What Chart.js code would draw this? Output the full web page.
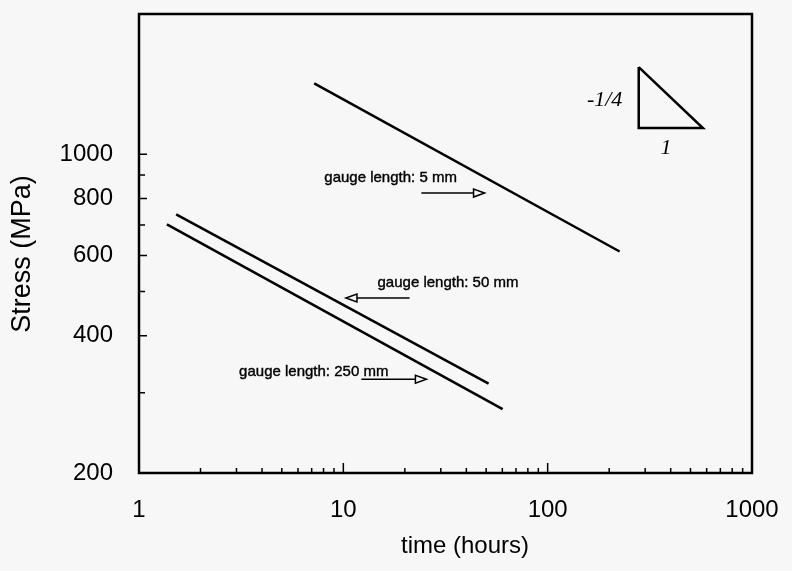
<!DOCTYPE html>
<html lang="en">
<head>
<meta charset="UTF-8">
<title>Stress vs time</title>
<script src="https://cdn.jsdelivr.net/npm/chart.js"></script>
<style>
  html, body { margin: 0; padding: 0; background: #f7f7f7; }
  #grafico { display: block; }
</style>
</head>
<body>
<canvas id="grafico" width="792" height="571"></canvas>
<script>
// data (time in hours, stress in MPa)
const line5mm   = [{x: 7.2,  y: 1430}, {x: 225,  y: 612}];
const line50mm  = [{x: 1.52, y: 738},  {x: 51.4, y: 314}];
const line250mm = [{x: 1.37, y: 702},  {x: 60.2, y: 276}];
const slopeTriangle = [{x: 279, y: 1553}, {x: 279, y: 1141}, {x: 575, y: 1141}, {x: 279, y: 1553}];

const xTickLabels = [1, 10, 100, 1000];
const yTickLabels = [200, 400, 600, 800, 1000];
const xMinorTicks = [2,3,4,5,6,7,8,9, 20,30,40,50,60,70,80,90, 200,300,400,500,600,700,800,900];
const xMajorTicks = [10, 100];
const yMinorTicks = [300, 500, 700, 900];
const yMajorTicks = [400, 600, 800, 1000];

// notes: text / arrows placed in data coordinates
const notes = [
    {text: 'gauge length: 5 mm',   x: 8.07, y: 887},
    {text: 'gauge length: 50 mm',  x: 14.7, y: 522},
    {text: 'gauge length: 250 mm', x: 3.09, y: 333}
];
const arrows = [
    {from: {x: 24.1, y: 822}, to: {x: 49.1, y: 822}},
    {from: {x: 21.1, y: 484}, to: {x: 10.3, y: 484}},
    {from: {x: 12.25, y: 321}, to: {x: 25.5, y: 321}}
];

const fonte = '"Liberation Sans", Arial, Helvetica, sans-serif';

const extras = {
    id: 'extras',
    afterDraw(chart) {
        const ctx = chart.ctx;
        const a = chart.chartArea;
        const xs = chart.scales.x, ys = chart.scales.y;
        ctx.save();
        ctx.strokeStyle = '#000';
        ctx.fillStyle = '#000';

        // frame
        ctx.lineWidth = 2.5;
        ctx.strokeRect(a.left, a.top, a.right - a.left, a.bottom - a.top);

        // inward ticks
        ctx.lineWidth = 1.5;
        ctx.beginPath();
        xMinorTicks.forEach(v => { const p = xs.getPixelForValue(v); ctx.moveTo(p, a.bottom); ctx.lineTo(p, a.bottom - 5); });
        xMajorTicks.forEach(v => { const p = xs.getPixelForValue(v); ctx.moveTo(p, a.bottom); ctx.lineTo(p, a.bottom - 10); });
        yMinorTicks.forEach(v => { const p = ys.getPixelForValue(v); ctx.moveTo(a.left, p); ctx.lineTo(a.left + 6, p); });
        yMajorTicks.forEach(v => { const p = ys.getPixelForValue(v); ctx.moveTo(a.left, p); ctx.lineTo(a.left + 8, p); });
        ctx.stroke();

        // axis titles
        ctx.textAlign = 'center';
        ctx.textBaseline = 'middle';
        ctx.font = '24px ' + fonte;
        ctx.fillText('time (hours)', 465, 546);
        ctx.save();
        ctx.font = '27px ' + fonte;
        ctx.translate(23, 254);
        ctx.rotate(-Math.PI / 2);
        ctx.fillText('Stress (MPa)', 0, 0);
        ctx.restore();

        // notes
        ctx.font = '15px ' + fonte;
        ctx.textAlign = 'left';
        ctx.lineWidth = 0.4;
        notes.forEach(n => {
            const px = xs.getPixelForValue(n.x), py = ys.getPixelForValue(n.y);
            ctx.fillText(n.text, px, py);
            ctx.strokeText(n.text, px, py);
        });

        // arrows with hollow heads
        ctx.lineWidth = 1.5;
        arrows.forEach(ar => {
            const x1 = xs.getPixelForValue(ar.from.x), y1 = ys.getPixelForValue(ar.from.y);
            const x2 = xs.getPixelForValue(ar.to.x),   y2 = ys.getPixelForValue(ar.to.y);
            const dir = Math.sign(x2 - x1);
            const base = x2 - dir * 11;
            ctx.beginPath();
            ctx.moveTo(x1, y1);
            ctx.lineTo(base, y2);
            ctx.stroke();
            ctx.beginPath();
            ctx.moveTo(x2, y2);
            ctx.lineTo(base, y2 - 4);
            ctx.lineTo(base, y2 + 4);
            ctx.closePath();
            ctx.stroke();
        });

        // slope labels
        ctx.font = 'italic 22px "Liberation Serif", "Times New Roman", serif';
        ctx.textAlign = 'center';
        ctx.fillText('-1/4', xs.getPixelForValue(190), ys.getPixelForValue(1315));
        ctx.fillText('1', xs.getPixelForValue(379), ys.getPixelForValue(1033));
        ctx.restore();
    }
};

function linha(data) {
    return {
        data: data,
        showLine: true,
        borderColor: '#000',
        borderWidth: 2.5,
        pointRadius: 0,
        fill: false
    };
}

function semPadding(s) {
    s.paddingLeft = 0;
    s.paddingRight = 0;
    s.paddingTop = 0;
    s.paddingBottom = 0;
}

const ctx = document.getElementById('grafico').getContext('2d');
const grafico = new Chart(ctx, {
    type: 'scatter',
    data: {
        datasets: [linha(line5mm), linha(line50mm), linha(line250mm), linha(slopeTriangle)]
    },
    options: {
        responsive: false,
        animation: false,
        layout: { padding: { top: 14, right: 40, left: 0, bottom: 0 } },
        plugins: { legend: { display: false }, tooltip: { enabled: false } },
        scales: {
            x: {
                type: 'logarithmic',
                min: 1,
                max: 1000,
                grid: { display: false, drawTicks: false },
                border: { display: false },
                afterBuildTicks: s => { s.ticks = xTickLabels.map(v => ({value: v})); },
                afterFit: s => { s.height = 98; semPadding(s); },
                ticks: {
                    color: '#000',
                    font: { family: fonte, size: 24 },
                    padding: 23,
                    maxRotation: 0,
                    autoSkip: false,
                    callback: v => String(v)
                }
            },
            y: {
                type: 'logarithmic',
                min: 200,
                max: 2030,
                grid: { display: false, drawTicks: false },
                border: { display: false },
                afterBuildTicks: s => { s.ticks = yTickLabels.map(v => ({value: v})); },
                afterFit: s => { s.width = 139; semPadding(s); },
                ticks: {
                    color: '#000',
                    font: { family: fonte, size: 24 },
                    padding: 26,
                    autoSkip: false,
                    callback: v => String(v)
                }
            }
        }
    },
    plugins: [extras]
});
</script>
</body>
</html>
